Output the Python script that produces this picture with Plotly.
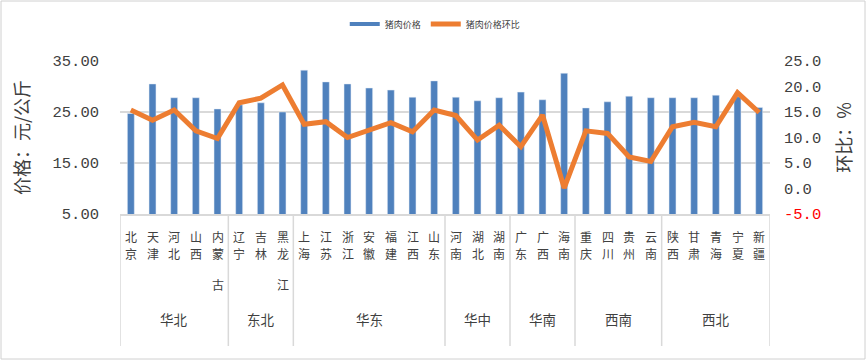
import plotly.graph_objects as go

provinces = ["北京", "天津", "河北", "山西", "内蒙古", "辽宁", "吉林", "黑龙江",
             "上海", "江苏", "浙江", "安徽", "福建", "江西", "山东",
             "河南", "湖北", "湖南", "广东", "广西", "海南",
             "重庆", "四川", "贵州", "云南", "陕西", "甘肃", "青海", "宁夏", "新疆"]
regions = ["华北"] * 5 + ["东北"] * 3 + ["华东"] * 7 + ["华中"] * 3 + ["华南"] * 3 + ["西南"] * 4 + ["西北"] * 5
price = [24.7, 30.5, 27.8, 27.8, 25.6, 26.4, 26.8, 25.0,
         33.2, 30.9, 30.5, 29.7, 29.3, 27.9, 31.1,
         27.9, 27.2, 27.8, 28.9, 27.4, 32.6,
         25.8, 27.0, 28.1, 27.8, 27.8, 27.8, 28.3, 28.0, 25.9]
mom = [15.4, 13.4, 15.4, 11.3, 9.8, 16.8, 17.7, 20.3,
       12.6, 13.1, 10.0, 11.5, 12.9, 11.1, 15.4,
       14.3, 9.5, 12.4, 8.2, 14.4, 0.1,
       11.3, 10.8, 6.2, 5.3, 12.1, 13.0, 12.1, 18.8, 14.9]
left_ticks = [5, 15, 25, 35]
right_ticks = [-5, 0, 5, 10, 15, 20, 25]

FONT = "Noto Sans CJK SC"
NUMFONT = "Liberation Mono"
TXT = "#404040"
GRID = "#d9d9d9"
BLUE = "#4F81BD"
ORANGE = "#ED7D31"

# plot area geometry (pixels)
W, H = 867, 361
L, R, T, B = 120, 97, 61, 147
PW, PH = W - L - R, H - T - B
AXIS_Y = T + PH  # pixel row of the category axis

fig = go.Figure()
fig.add_trace(go.Bar(x=provinces, y=price, name="猪肉价格", marker_color=BLUE,
                     yaxis="y", showlegend=False))
fig.add_trace(go.Scatter(x=[None], y=[None], name="猪肉价格", mode="lines",
                         line=dict(color=BLUE, width=4), yaxis="y"))
fig.add_trace(go.Scatter(x=provinces, y=mom, name="猪肉价格环比", mode="lines",
                         line=dict(color=ORANGE, width=5), yaxis="y2"))

right_text = []
for v in right_ticks:
    s = f"{v:.1f}"
    if v < 0:
        s = f"<span style='color:#FF0000'>{s}</span>"
    right_text.append(s)

shapes = []
annotations = []

# vertical (stacked) province labels, one character per line
line_rows = [236, 253.4, 284]
for p in provinces:
    for k, ch in enumerate(p):
        annotations.append(dict(x=p, y=-(line_rows[k] - AXIS_Y) / PH, xref="x", yref="paper",
                                text=ch, showarrow=False, yanchor="middle", borderpad=0,
                                font=dict(size=12, color=TXT)))

# group dividers and labels (from region data)
bounds = [0]
groups = []
for i, r in enumerate(regions):
    if i > 0 and r != regions[i - 1]:
        bounds.append(i)
    if not groups or groups[-1][0] != r:
        groups.append([r, i, i])
    else:
        groups[-1][2] = i
bounds.append(len(regions))
lab_bottom = -(346 - AXIS_Y) / PH
for b in bounds:
    shapes.append(dict(type="line", xref="x", yref="paper",
                       x0=b - 0.5, x1=b - 0.5, y0=0, y1=lab_bottom,
                       line=dict(color=GRID, width=1.5)))
for name, i0, i1 in groups:
    annotations.append(dict(x=(i0 + i1) / 2, y=-(319 - AXIS_Y) / PH, xref="x", yref="paper",
                            text=name, showarrow=False, yanchor="middle", borderpad=0,
                            font=dict(size=13.5, color=TXT)))

shapes.append(dict(type="rect", xref="paper", yref="paper",
                   x0=-(L - 1) / PW, x1=(W - 2 - L) / PW,
                   y0=-(H - 2 - AXIS_Y) / PH, y1=1 + (T - 1) / PH,
                   line=dict(color="#d0d0d0", width=1), fillcolor="rgba(0,0,0,0)",
                   layer="below"))

fig.update_layout(
    width=W, height=H,
    margin=dict(l=L, r=R, t=T, b=B, autoexpand=False),
    paper_bgcolor="white", plot_bgcolor="white",
    font=dict(family=FONT, color=TXT, size=15),
    bargap=0.68,
    showlegend=True,
    legend=dict(orientation="h", x=0.485, xanchor="center", y=1 + 37 / PH, yanchor="middle",
                font=dict(size=9, color=TXT)),
    xaxis=dict(
        type="category", range=[-0.5, len(provinces) - 0.5],
        showticklabels=False, automargin=False,
        showline=True, linecolor=GRID, linewidth=1.5, ticks="",
    ),
    yaxis=dict(
        range=[5, 35], tickvals=left_ticks,
        ticktext=[f"{v:.2f}" for v in left_ticks],
        showgrid=True, gridcolor=GRID, gridwidth=1.5,
        zeroline=False, showline=False, automargin=False,
        ticks="", ticklabelstandoff=20,
        title=dict(text="价格：元/公斤", font=dict(size=18, color=TXT), standoff=18),
        tickfont=dict(family=NUMFONT, size=15.5, color=TXT),
    ),
    yaxis2=dict(
        range=[-5, 25], tickvals=right_ticks, ticktext=right_text,
        overlaying="y", side="right", showgrid=False, zeroline=False, automargin=False,
        ticks="", ticklabelstandoff=13,
        title=dict(text="环比：%", font=dict(size=18, color=TXT), standoff=18),
        tickfont=dict(family=NUMFONT, size=15.5, color=TXT),
    ),
    shapes=shapes,
    annotations=annotations,
)

fig.write_html("out.html", config={"displayModeBar": False},
               post_script="document.body.style.margin='0px';")
